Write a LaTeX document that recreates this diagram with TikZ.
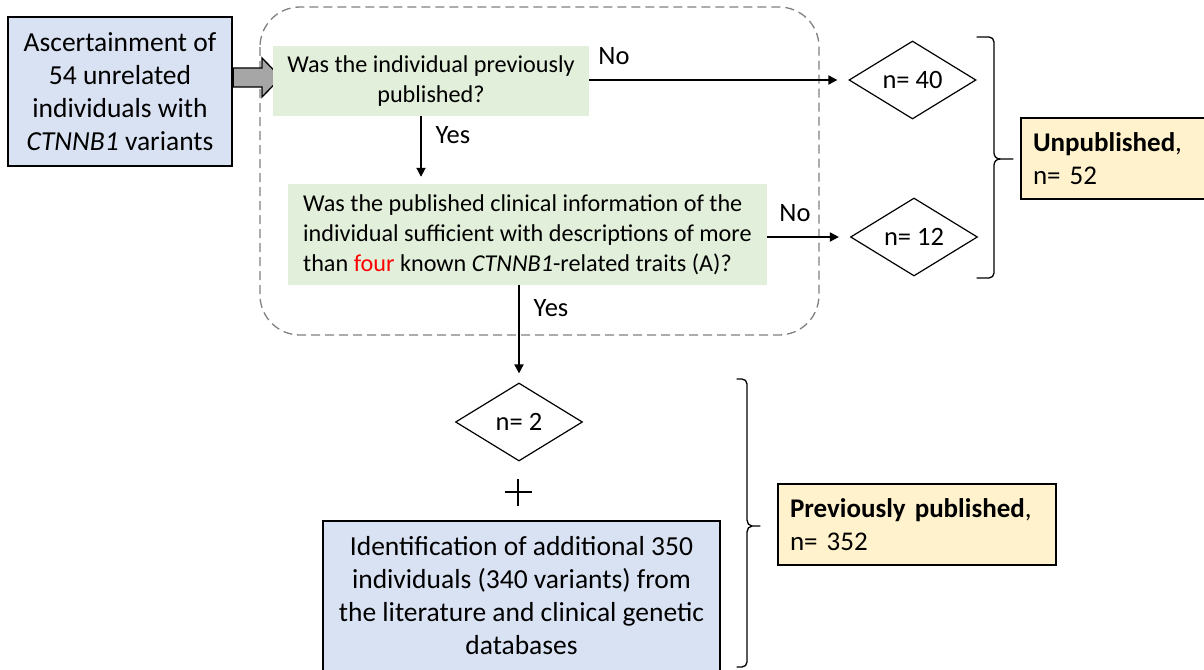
\documentclass[tikz,border=0pt]{standalone}
\usepackage{fontspec}
\setmainfont{Carlito}
\usetikzlibrary{shapes.geometric,arrows.meta}
\definecolor{bluefill}{HTML}{D9E2F3}
\definecolor{greenfill}{HTML}{E2EFDA}
\definecolor{yellowfill}{HTML}{FFF2CC}
\definecolor{arrowgray}{HTML}{A6A6A6}
\definecolor{dashgray}{HTML}{808080}
\tikzset{
  bluebox/.style={draw=black, line width=2.2, fill=bluefill, inner sep=0, align=center,
    font=\fontsize{27.5}{33}\selectfont},
  greenbox/.style={fill=greenfill, inner sep=0, font=\fontsize{24.2}{30}\selectfont},
  dia/.style={diamond, draw=black, line width=1.2, minimum width=127, minimum height=78,
    inner sep=0, font=\fontsize{26.5}{30}\selectfont},
  yellowbox/.style={draw=black, line width=2.2, fill=yellowfill, inner xsep=12, inner ysep=0,
    align=left, font=\fontsize{27}{33}\selectfont},
  lbl/.style={inner sep=0, font=\fontsize{26.5}{30}\selectfont},
  arr/.style={-{Triangle[length=9,width=9]}, line width=1.8},
  bracestyle/.style={line width=1.3, line cap=round, line join=round},
}
\begin{document}
\begin{tikzpicture}[x=1pt,y=-1pt]
\useasboundingbox (0,0) rectangle (1204,669);

% dashed frame
\draw[dashgray, line width=1.3, dash pattern=on 9 off 5, rounded corners=40] (260,7) rectangle (819,335);

% first blue box
\node[bluebox, minimum width=224, minimum height=149] (asc) at (120,91.5)
  {Ascertainment of\\54 unrelated\\individuals with\\\textit{CTNNB1} variants};

% block arrow
\draw[fill=arrowgray, draw=black, line width=1.3]
  (asc.east |- 0,68) -- (262,68) -- (262,58) -- (281,77.5) -- (262,97) -- (262,87) -- (asc.east |- 0,87) -- cycle;

% question boxes
\node[greenbox, minimum width=316, minimum height=69, align=center] (q1) at (431,81)
  {Was the individual previously\\published?};
\node[greenbox, minimum width=479, minimum height=101, align=left] (q2) at (527.5,234.5)
  {Was the published clinical information of the\\individual sufficient with descriptions of more\\than \textcolor{red}{four} known \textit{CTNNB1}-related traits (A)?};

% diamonds
\node[dia] (n40) at (912.5,80) {n= 40};
\node[dia] (n12) at (914,237) {n= 12};
\node[dia] (n2) at (519,422) {n= 2};

% yellow boxes
\node[yellowbox, minimum height=81, text width=161] (unpub) at (1113.5,158.5)
  {\textbf{Unpublished},\\n= 52};
\node[yellowbox, minimum height=81, text width=254] (prev) at (917,524.5)
  {\textbf{Previously published},\\n= 352};

% second blue box
\node[bluebox, minimum width=397, minimum height=150] (ident) at (521.5,596)
  {Identification of additional 350\\individuals (340 variants) from\\the literature and clinical genetic\\databases};

% connectors
\coordinate (c1) at (421,0);
\draw[arr, shorten >=11] (q1.east |- n40.west) -- (n40.west);
\draw[arr, shorten >=11] (q2.east |- n12.west) -- (n12.west);
\draw[arr, shorten >=7] (c1 |- q1.south) -- (c1 |- q2.north);
\draw[arr, shorten >=9] (n2.north |- q2.south) -- (n2.north);

% labels
\node[lbl] (no1) at (614,56) {No};
\node[lbl] (no2) at (795,213) {No};
\node[lbl] (yes1) at (453,135) {Yes};
\node[lbl] (yes2) at (551,308) {Yes};

% plus
\coordinate (plus) at (518,492);
\draw[line width=1.5] ([xshift=-13.5]plus) -- ([xshift=13.5]plus)
                      ([yshift=-13.5]plus) -- ([yshift=13.5]plus);

% braces
\draw[bracestyle] (977,37) -- (989,37) to[out=0,in=90] (994,42) -- (994,153)
  to[out=-90,in=180] (1000,159) -- (1013,159);
\draw[bracestyle] (1000,159) to[out=180,in=90] (994,165) -- (994,273)
  to[out=-90,in=0] (989,278) -- (977,278);
\draw[bracestyle] (737,379) -- (742,379) to[out=0,in=90] (747,384) -- (747,520)
  to[out=-90,in=180] (752,526) -- (760,526);
\draw[bracestyle] (752,526) to[out=180,in=90] (747,532) -- (747,662)
  to[out=-90,in=0] (742,667) -- (737,667);
\end{tikzpicture}
\end{document}
